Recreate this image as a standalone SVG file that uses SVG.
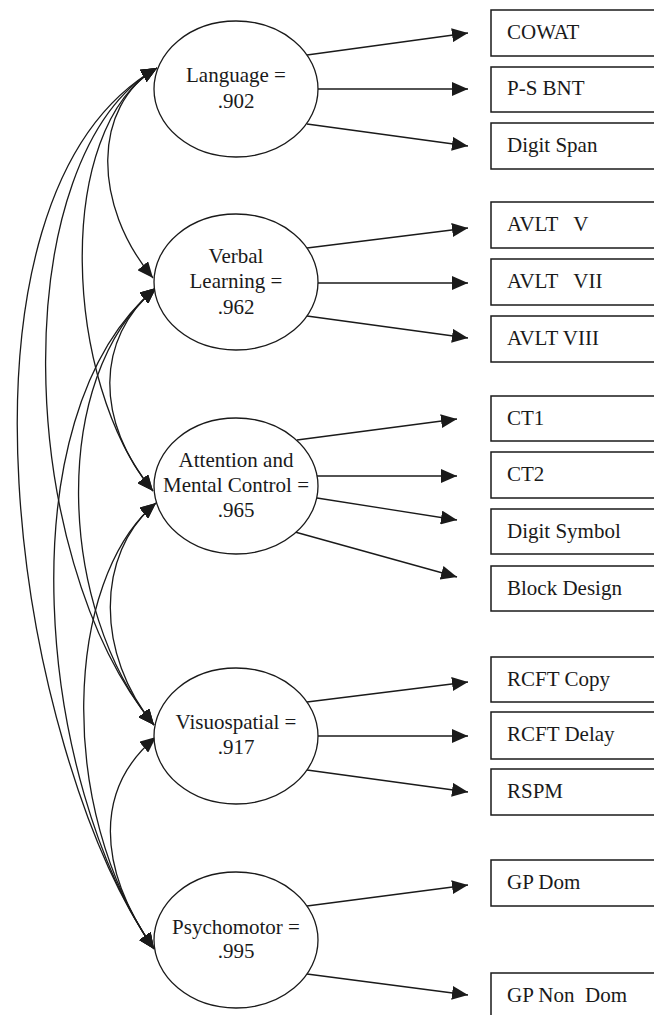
<svg xmlns="http://www.w3.org/2000/svg" width="654" height="1015" viewBox="0 0 654 1015">
<defs>
<style>
.lbl{font-family:"Liberation Serif","Times New Roman",serif;font-size:21px;fill:#1a1a1a}
.mid{text-anchor:middle}
.ell{fill:#fff;stroke:#1a1a1a;stroke-width:1.3}
.box{fill:#fff;stroke:#1a1a1a;stroke-width:1.5}
.ln{fill:none;stroke:#1a1a1a;stroke-width:1.3}
.arr{marker-end:url(#ah)}
.cor{marker-start:url(#ah);marker-end:url(#ah)}
</style>
<marker id="ah" markerUnits="userSpaceOnUse" markerWidth="16" markerHeight="14" refX="16" refY="7" orient="auto-start-reverse">
<path d="M0,0 L16,7 L0,14 z" fill="#1a1a1a"/>
</marker>
</defs>
<rect width="654" height="1015" fill="#fff"/>
<g id="connectors">
<path class="ln cor" d="M157,68 C92,105.5 92,205 153,278"/>
<path class="ln cor" d="M157,68 C52.6,128 63.4,383 153,491"/>
<path class="ln cor" d="M157,68 C4.75,155.5 13.2,555.6 154,725"/>
<path class="ln cor" d="M157,68 C-69.2,198 16.2,752 154,949"/>
<path class="ln cor" d="M156,288 C94.4,339 95.4,421.7 153,491"/>
<path class="ln cor" d="M156,288 C48.2,377.6 58,609.5 154,725"/>
<path class="ln cor" d="M156,288 C2,416 39.2,785.2 154,949"/>
<path class="ln cor" d="M156,503 C94.4,554 96.4,655.7 154,725"/>
<path class="ln cor" d="M156,503 C63.6,579.8 56.4,809.8 154,949"/>
<path class="ln cor" d="M156,737 C94.4,788.2 96.6,867 154,949"/>
<path class="ln arr" d="M307,55 L468,33"/>
<path class="ln arr" d="M317,89 L468,89"/>
<path class="ln arr" d="M307,124 L468,146"/>
<path class="ln arr" d="M307,248 L468,228"/>
<path class="ln arr" d="M317,283 L468,283"/>
<path class="ln arr" d="M307,316 L468,338"/>
<path class="ln arr" d="M297,440 L457,419"/>
<path class="ln arr" d="M317,476 L457,476"/>
<path class="ln arr" d="M317,498 L457,520"/>
<path class="ln arr" d="M295,532 L457,577"/>
<path class="ln arr" d="M307,702 L468,682"/>
<path class="ln arr" d="M317,736 L468,736"/>
<path class="ln arr" d="M307,770 L468,792"/>
<path class="ln arr" d="M307,906 L468,885"/>
<path class="ln arr" d="M307,974 L468,995"/>
</g>
<g id="language">
<ellipse class="ell" cx="236" cy="89" rx="82" ry="68"/>
<text class="lbl mid" x="236" y="82">Language =</text>
<text class="lbl mid" x="236" y="108">.902</text>
</g>
<g id="verbal-learning">
<ellipse class="ell" cx="236" cy="282" rx="82" ry="68"/>
<text class="lbl mid" x="236" y="263">Verbal</text>
<text class="lbl mid" x="236" y="288">Learning =</text>
<text class="lbl mid" x="236" y="314">.962</text>
</g>
<g id="attention">
<ellipse class="ell" cx="236" cy="486" rx="82" ry="68"/>
<text class="lbl mid" x="236" y="467">Attention and</text>
<text class="lbl mid" x="236" y="492">Mental Control =</text>
<text class="lbl mid" x="236" y="517">.965</text>
</g>
<g id="visuospatial">
<ellipse class="ell" cx="236" cy="736" rx="82" ry="68"/>
<text class="lbl mid" x="236" y="729">Visuospatial =</text>
<text class="lbl mid" x="236" y="754">.917</text>
</g>
<g id="psychomotor">
<ellipse class="ell" cx="236" cy="940" rx="82" ry="68"/>
<text class="lbl mid" x="236" y="934">Psychomotor =</text>
<text class="lbl mid" x="236" y="958">.995</text>
</g>
<g id="cowat"><rect class="box" x="491" y="10" width="166" height="46"/><text class="lbl" x="507" y="39">COWAT</text></g>
<g id="psbnt"><rect class="box" x="491" y="67" width="166" height="45"/><text class="lbl" x="507" y="95">P-S BNT</text></g>
<g id="digit-span"><rect class="box" x="491" y="123" width="166" height="46"/><text class="lbl" x="507" y="152">Digit Span</text></g>
<g id="avlt-v"><rect class="box" x="491" y="202" width="166" height="46"/><text class="lbl" x="507" y="231" xml:space="preserve">AVLT   V</text></g>
<g id="avlt-vii"><rect class="box" x="491" y="259" width="166" height="46"/><text class="lbl" x="507" y="288" xml:space="preserve">AVLT   VII</text></g>
<g id="avlt-viii"><rect class="box" x="491" y="316" width="166" height="46"/><text class="lbl" x="507" y="345">AVLT VIII</text></g>
<g id="ct1"><rect class="box" x="491" y="396" width="166" height="45"/><text class="lbl" x="507" y="425">CT1</text></g>
<g id="ct2"><rect class="box" x="491" y="452" width="166" height="46"/><text class="lbl" x="507" y="481">CT2</text></g>
<g id="digit-symbol"><rect class="box" x="491" y="509" width="166" height="45"/><text class="lbl" x="507" y="538">Digit Symbol</text></g>
<g id="block-design"><rect class="box" x="491" y="566" width="166" height="45"/><text class="lbl" x="507" y="595">Block Design</text></g>
<g id="rcft-copy"><rect class="box" x="491" y="657" width="166" height="45"/><text class="lbl" x="507" y="686">RCFT Copy</text></g>
<g id="rcft-delay"><rect class="box" x="491" y="712" width="166" height="47"/><text class="lbl" x="507" y="741">RCFT Delay</text></g>
<g id="rspm"><rect class="box" x="491" y="769" width="166" height="46"/><text class="lbl" x="507" y="798">RSPM</text></g>
<g id="gp-dom"><rect class="box" x="491" y="860" width="166" height="46"/><text class="lbl" x="507" y="889">GP Dom</text></g>
<g id="gp-non-dom"><rect class="box" x="491" y="973" width="166" height="46"/><text class="lbl" x="507" y="1002" xml:space="preserve">GP Non  Dom</text></g>
</svg>
